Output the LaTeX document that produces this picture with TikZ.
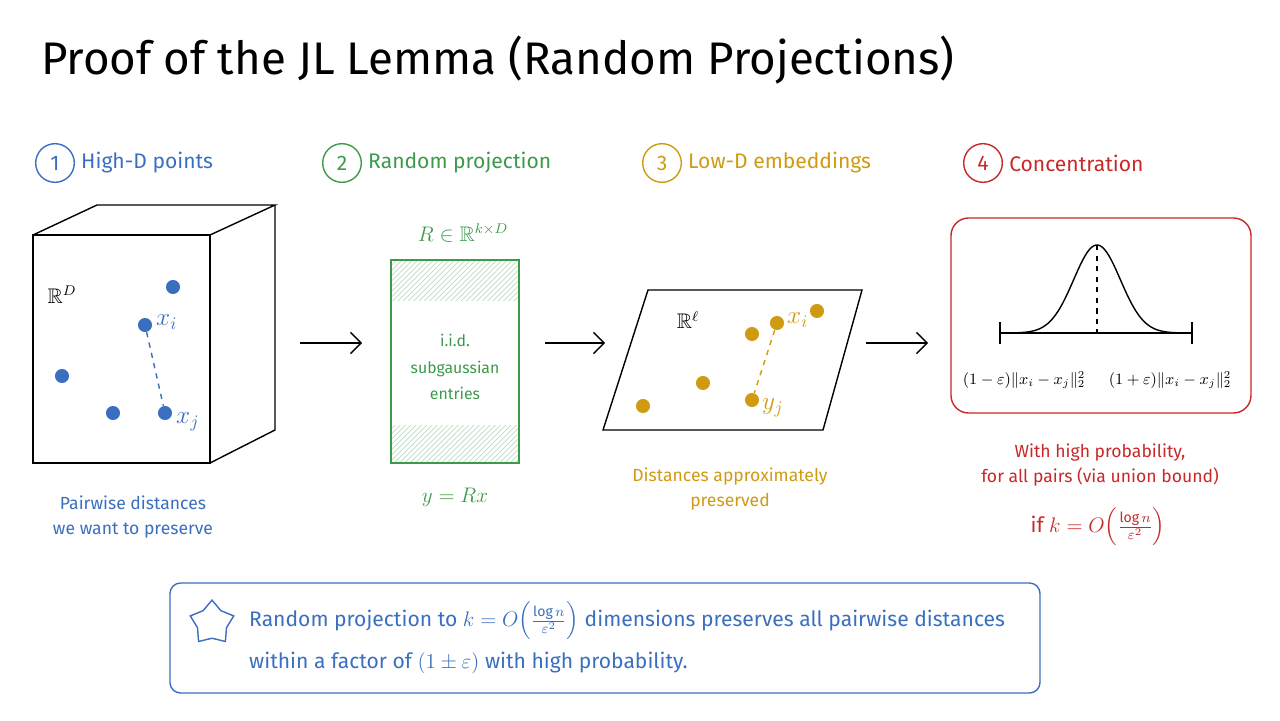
\documentclass[tikz,border=0pt]{standalone}
\usepackage{amsmath,amssymb}
\usepackage{fontspec}
\setmainfont{Fira Sans}
\usetikzlibrary{calc,arrows.meta,shapes.geometric,patterns}
\definecolor{cblue}{HTML}{3A6FBF}
\definecolor{cgreen}{HTML}{3C9A4A}
\definecolor{corange}{HTML}{D09A12}
\definecolor{cred}{HTML}{C82828}
\tikzset{
  num/.style={circle,draw,thick,inner sep=1.5pt,minimum size=22pt,font=\large},
  head/.style={anchor=west,font=\large},
  dot/.style={circle,fill,inner sep=0pt,minimum size=8pt},
  captext/.style={font=\normalsize,align=center},
  flow/.style={-{Straight Barb[length=6pt]},thick}
}
\begin{document}
\begin{tikzpicture}[x=0.02cm,y=-0.02cm]
  \useasboundingbox (0,0) rectangle (1280,720);
  \node[anchor=west,font=\fontsize{26}{30}\selectfont] (title) at (35,60) {Proof of the JL Lemma (Random Projections)};

  % 1: high-D points
  \node[num,cblue] (n1) at (55,163) {1};
  \node[head,cblue] (h1) at (n1.east) {High-D points};
  \draw[thick] (33,235) rectangle (210,463);
  \draw[thick] (33,235) -- (97,205) -- (275,205) -- (210,235);
  \draw[thick] (275,205) -- (275,430) -- (210,463);
  \node[font=\large] (rd) at (62,295) {$\mathbb{R}^D$};
  \begin{scope}[cblue]
    \node[dot] (p1) at (173,287) {};
    \node[dot] (xi) at (145,325) {};
    \node[dot] (p3) at (62,376) {};
    \node[dot] (p4) at (113,413) {};
    \node[dot] (xj) at (165,413) {};
    \node[font=\Large,anchor=west] at (150,322) {$x_i$};
    \node[font=\Large,anchor=west] at (170,422) {$x_j$};
    \draw[thick,dashed] (xi) -- (xj);
  \end{scope}
  \node[captext,cblue] (c1) at (133,517) {Pairwise distances\\[2pt]we want to preserve};

  \node (a1) at (300,343) {}; \node (b1) at (362,343) {};
  \draw[flow] (a1.center) -- (b1.center);

  % 2: random projection
  \node[num,cgreen] (n2) at (342,163) {2};
  \node[head,cgreen] (h2) at (n2.east) {Random projection};
  \node[cgreen,font=\large] (rmat) at (463,233) {$R\in\mathbb{R}^{k\times D}$};
  \fill[pattern=north east lines,pattern color=cgreen!35] (391,260) rectangle (519,300);
  \fill[pattern=north east lines,pattern color=cgreen!35] (391,425) rectangle (519,463);
  \draw[thick,cgreen] (391,260) rectangle (519,463);
  \node[captext,cgreen,font=\small] (ent) at (455,367) {i.i.d.\\[4pt]subgaussian\\[4pt]entries};
  \node[cgreen,font=\large] (yrx) at (455,497) {$y = Rx$};

  \node (a2) at (545,343) {}; \node (b2) at (605,343) {};
  \draw[flow] (a2.center) -- (b2.center);

  % 3: low-D embeddings
  \node[num,corange] (n3) at (662,163) {3};
  \node[head,corange] (h3) at (n3.east) {Low-D embeddings};
  \draw[thick] (603,430) -- (648,290) -- (862,290) -- (823,430) -- cycle;
  \node[font=\large] (rl) at (688,320) {$\mathbb{R}^\ell$};
  \begin{scope}[corange]
    \node[dot] (q1) at (643,406) {};
    \node[dot] (q2) at (703,383) {};
    \node[dot] (q3) at (752,334) {};
    \node[dot] (yi) at (777,323) {};
    \node[dot] (q5) at (817,311) {};
    \node[dot] (yj) at (752,400) {};
    \node[font=\Large,anchor=west] at (781,320) {$x_i$};
    \node[font=\Large,anchor=west] at (756,408) {$y_j$};
    \draw[thick,dashed] (yi) -- (yj);
  \end{scope}
  \node[captext,corange] (c3) at (730,489) {Distances approximately\\[2pt]preserved};

  \node (a3) at (866,343) {}; \node (b3) at (928,343) {};
  \draw[flow] (a3.center) -- (b3.center);

  % 4: concentration
  \node[num,cred] (n4) at (983,163) {4};
  \node[head,cred] (h4) at (n4.east) {Concentration};
  \draw[thick,cred,rounded corners=10pt] (951,218) rectangle (1251,413);
  \draw[thick] (1000,333) -- (1192,333);
  \draw[thick] (1000,322) -- (1000,344);
  \draw[thick] (1192,322) -- (1192,344);
  \draw[thick,domain=1010:1184,samples=80] plot (\x,{333-88*exp(-((\x-1097)/33)^2)});
  \draw[thick,dashed] (1097,245) -- (1097,333);
  \node[font=\small,inner sep=0pt] (lo) at (1024,380) {$(1-\varepsilon)\|x_i-x_j\|_2^2$};
  \node[font=\small,inner sep=0pt] (hi) at (1170,380) {$(1+\varepsilon)\|x_i-x_j\|_2^2$};
  \node[captext,cred] (c4) at (1100,465) {With high probability,\\[2pt]for all pairs (via union bound)};
  \node[cred,font=\large] (bnd) at (1098,527) {if $k=O\!\left(\frac{\log n}{\varepsilon^2}\right)$};

  % summary
  \draw[thick,cblue,rounded corners=6pt] (170,583) rectangle (1040,693);
  \node[star,star points=5,draw,thick,cblue,minimum size=26pt,inner sep=0pt] (st) at (212,623) {};
  \node[anchor=west,cblue,font=\large] (s1) at (243,621) {Random projection to $k=O\!\left(\frac{\log n}{\varepsilon^2}\right)$ dimensions preserves all pairwise distances};
  \node[anchor=west,cblue,font=\large] (s2) at (243,663) {within a factor of $(1\pm\varepsilon)$ with high probability.};
\end{tikzpicture}
\end{document}
